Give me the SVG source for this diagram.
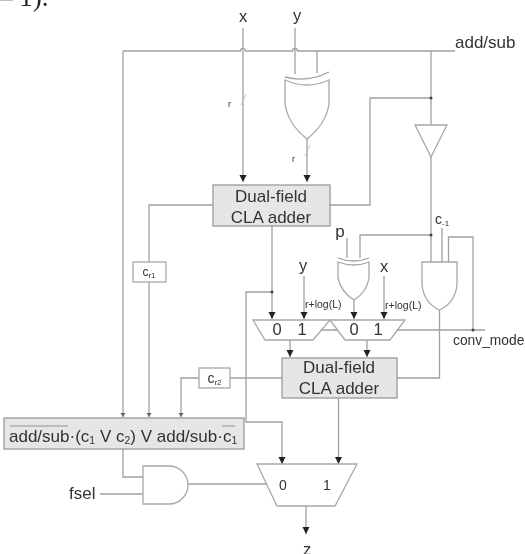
<svg xmlns="http://www.w3.org/2000/svg" width="525" height="554" viewBox="0 0 525 554">
<defs>
<style>
text{font-family:"Liberation Sans",Arial,sans-serif;fill:#333}
.w{fill:none;stroke:#a0a0a0;stroke-width:1.3}
.f{fill:none;stroke:#c4c4c4;stroke-width:1}
.s{fill:#fff;stroke:#a8a8a8;stroke-width:1.3}
.b{fill:#e6e6e6;stroke:#9a9a9a;stroke-width:1.3}
.t{fill:none;stroke:#8f8f8f;stroke-width:1.2}
.c{text-anchor:middle}
.l{font-size:17px}
.m{font-size:16.500px}
.n{font-size:14px}
.r{font-size:10.500px}
.u{font-size:8px}
.d{fill:#444;stroke:none}
</style>
<filter id="soft" x="0" y="0" width="100%" height="100%" filterUnits="userSpaceOnUse"><feGaussianBlur stdDeviation="0.5"/></filter>
<marker id="a" markerWidth="8" markerHeight="8" refX="7" refY="3.500" orient="auto" markerUnits="userSpaceOnUse"><path d="M0 0L7 3.500L0 7Z" fill="#222"/></marker>
<marker id="e" markerWidth="5" markerHeight="6" refX="4" refY="2.500" orient="auto" markerUnits="userSpaceOnUse"><path d="M0 0L4 2.500L0 5Z" fill="#666"/></marker>
</defs>
<g filter="url(#soft)">
<text x="-1" y="6" style="font-family:'Liberation Serif',serif;font-size:27px;fill:#222">– 1).</text>
<g id="mux1"><path class="s" d="M253 320H330L313 340H265Z"/>
<text class="m c" x="277" y="335">0</text><text class="m c" x="302" y="335">1</text></g>
<g id="mux2"><path class="s" d="M330 320H405L390 340H345Z"/>
<text class="m c" x="354" y="335">0</text><text class="m c" x="378" y="335">1</text></g>
<g id="connectors">
<path class="w" d="M243 28V182" marker-end="url(#a)"/>
<path class="w" d="M123 51H240.500A2.500 2.500 0 0 1 245.500 51H292.500A2.500 2.500 0 0 1 297.500 51H455"/>
<path class="w" d="M295 28V74M317 51V73"/>
<path class="w" d="M307 139V182" marker-end="url(#a)"/>
<path class="f" d="M241 105L246 94M305 156L310 145"/>
<path class="w" d="M431 51V125M431 157V262"/>
<path class="w" d="M431 98H370V205H330"/>
<path class="w" d="M431 235H360V258M347 238V258M442 228V262M448.500 262V237H473V330"/>
<path class="w" d="M123 51V417" marker-end="url(#e)"/>
<path class="w" d="M213 205H149V262M149 282V417" marker-end="url(#e)"/>
<path class="w" d="M282 378H230M199 378H181V417" marker-end="url(#e)"/>
<path class="w" d="M246 378V292H272M246 378V422H282V464" marker-end="url(#a)"/>
<path class="w" d="M272 226V319" marker-end="url(#a)"/>
<path class="w" d="M304 276V319" marker-end="url(#a)"/>
<path class="w" d="M354 300V319" marker-end="url(#a)"/>
<path class="w" d="M384 276V319" marker-end="url(#a)"/>
<path class="w" d="M290 340V357" marker-end="url(#a)"/>
<path class="w" d="M367 340V357" marker-end="url(#a)"/>
<path class="w" d="M397 330H485M321 330H338"/>
<path class="w" d="M439.500 310V378H397"/>
<path class="w" d="M338.500 398V464" marker-end="url(#a)"/>
<path class="w" d="M123 449V477H143M100 494H143M188 484H267"/>
<path class="w" d="M306 506V534" marker-end="url(#a)"/>
<circle class="d" cx="431" cy="98" r="1.500"/>
<circle class="d" cx="431" cy="235" r="1.500"/>
<circle class="d" cx="272" cy="292" r="1.500"/>
<circle class="d" cx="473" cy="330" r="1.500"/>
</g>
<g id="xor1">
<path class="s" d="M285 80Q307 90 329 80V104Q326 124 307 139Q288 124 285 104Z"/>
<path class="w" d="M285 77Q307 83 329 72"/>
</g>
<g id="inverter"><path class="s" d="M415 125H447L431 157Z"/></g>
<g id="xor2">
<path class="s" d="M338 262Q354 268 369 262V278Q367 292 354 300Q341 292 338 278Z"/>
<path class="w" d="M338 258Q354 264 369 258"/>
</g>
<g id="and2"><path class="s" d="M422 262H457V285Q455 303 439.500 310Q424 303 422 285Z"/></g>
<g id="adder1"><rect class="b" x="213" y="185" width="117" height="41"/>
<text class="l c" x="271" y="202">Dual-field</text><text class="l c" x="271" y="223">CLA adder</text></g>
<g id="adder2"><rect class="b" x="282" y="358" width="115" height="40"/>
<text class="l c" x="339" y="373">Dual-field</text><text class="l c" x="339" y="394">CLA adder</text></g>
<g id="cr1"><rect class="s" x="133" y="262" width="33" height="20"/><text class="c" x="149" y="276" style="font-size:12px">c<tspan class="u" dy="2">r1</tspan></text></g>
<g id="cr2"><rect class="s" x="199" y="368" width="31" height="20"/><text class="c" x="214.500" y="383" style="font-size:14px">c<tspan class="u" dy="2">r2</tspan></text></g>
<g id="selector"><rect class="b" x="4" y="418" width="240" height="31"/>
<text x="9" y="442" style="font-size:17px">add/sub·(c<tspan class="r" dy="2">1</tspan><tspan dy="-2"> V c</tspan><tspan class="r" dy="2">2</tspan><tspan dy="-2">) V add/sub·c</tspan><tspan class="r" dy="2">1</tspan></text>
<path class="t" d="M10 426H68M222 426H235"/></g>
<g id="and1"><path class="s" d="M143 466H169A19 19 0 0 1 169 504H143Z"/></g>
<g id="mux3"><path class="s" d="M257 464H357L335 506H277Z"/>
<text class="n c" x="283" y="490">0</text><text class="n c" x="327" y="490">1</text></g>
<g id="labels">
<text class="m c" x="243" y="22">x</text><text class="m c" x="297" y="21">y</text>
<text class="l" x="455" y="48">add/sub</text>
<text x="228" y="107" style="font-size:9px">r</text><text x="292" y="162" style="font-size:9px">r</text>
<text class="l c" x="340" y="237">p</text>
<text class="m c" x="303" y="271">y</text><text class="m c" x="384" y="272">x</text>
<text x="435" y="224" style="font-size:14px">c<tspan class="u" dy="2">-1</tspan></text>
<text x="305" y="308" class="r">r+log(L)</text><text x="385" y="309" class="r">r+log(L)</text>
<text x="453" y="345" style="font-size:13.800px">conv_mode</text>
<text class="l" x="69" y="499">fsel</text>
<text class="m c" x="307" y="555">z</text>
</g>
</g>
</svg>
